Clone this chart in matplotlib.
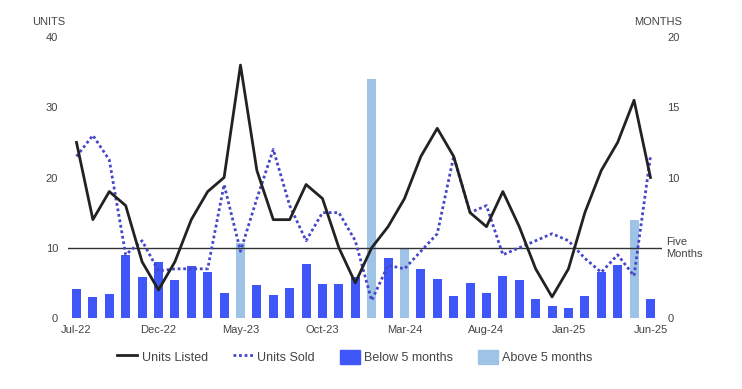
import numpy as np
import matplotlib
matplotlib.use("Agg")
import matplotlib.pyplot as plt
from matplotlib.lines import Line2D
from matplotlib.patches import Patch

plt.rcParams["font.family"] = ["Liberation Sans", "DejaVu Sans"]

# months shown on the x axis
months = ["Jul-22", "Aug-22", "Sep-22", "Oct-22", "Nov-22", "Dec-22",
          "Jan-23", "Feb-23", "Mar-23", "Apr-23", "May-23", "Jun-23",
          "Jul-23", "Aug-23", "Sep-23", "Oct-23", "Nov-23", "Dec-23",
          "Jan-24", "Feb-24", "Mar-24", "Apr-24", "May-24", "Jun-24",
          "Jul-24", "Aug-24", "Sep-24", "Oct-24", "Nov-24", "Dec-24",
          "Jan-25", "Feb-25", "Mar-25", "Apr-25", "May-25", "Jun-25"]

# units (left axis)
units_listed = [25, 14, 18, 16, 8, 4, 8, 14, 18, 20, 36, 21,
                14, 14, 19, 17, 10, 5, 10, 13, 17, 23, 27, 23,
                15, 13, 18, 13, 7, 3, 7, 15, 21, 25, 31, 20]
units_sold = [23, 26, 22.5, 9, 11, 6.7, 7, 7, 7, 19, 9.5, 17,
              24, 16, 11, 15, 15, 11, 2.5, 7.5, 7, 9.5, 12, 23,
              15, 16, 9, 10, 11, 12, 11, 8.5, 6.5, 9, 6, 23]

# months of inventory (right axis)
months_inv = [2.1, 1.5, 1.7, 4.5, 2.9, 4.0, 2.7, 3.7, 3.3, 1.75, 5.35, 2.35,
              1.65, 2.15, 3.85, 2.45, 2.45, 2.95, 17.0, 4.3, 5.0, 3.5, 2.8, 1.6,
              2.5, 1.8, 3.0, 2.7, 1.35, 0.85, 0.7, 1.6, 3.3, 3.8, 7.0, 1.35]

threshold_units = 10  # five months line

blue = "#3f56f8"
light = "#9fc3e6"
sold_color = "#4646c8"
text_color = "#444444"

x = np.arange(len(months))
bar_colors = [light if v >= 5 else blue for v in months_inv]

fig = plt.figure(figsize=(7.42, 3.89), dpi=100)
ax = fig.add_axes([0.0916, 0.1825, 0.8005, 0.7224])
ax2 = ax.twinx()

# bars on the months axis, drawn behind the lines
ax2.bar(x, months_inv, width=0.55, color=bar_colors, zorder=1)
ax2.set_ylim(0, 20)
ax2.set_yticks([0, 5, 10, 15, 20])
ax2.set_yticklabels(["0", "", "10", "15", "20"])
ax.set_zorder(ax2.get_zorder() + 1)
ax.patch.set_visible(False)

ax.axhline(threshold_units, color="#333333", lw=1.0, zorder=2)
ax.plot(x, units_sold, color=sold_color, lw=2.0, linestyle=(0, (1, 1)), zorder=3)
ax.plot(x, units_listed, color="#222222", lw=2.0, zorder=4)

ax.set_xlim(-0.52, 35.7)
ax.set_ylim(0, 40)
ax.set_yticks([0, 10, 20, 30, 40])
ax.set_xticks(x[::5])
ax.set_xticklabels(months[::5])

for a in (ax, ax2):
    for s in a.spines.values():
        s.set_visible(False)
    a.tick_params(length=0, labelsize=8, colors=text_color)
ax.tick_params(axis="y", pad=7)
ax.tick_params(axis="x", pad=5)
ax2.tick_params(axis="y", pad=4)

ax.annotate("Five\nMonths", xy=(1.0, threshold_units),
            xycoords=("axes fraction", "data"), xytext=(3, 0),
            textcoords="offset points", ha="left", va="center",
            fontsize=8, color=text_color, linespacing=1.2)

fig.text(49 / 742, 1 - 22 / 389, "UNITS", ha="center", va="center",
         fontsize=8, color=text_color)
fig.text(658 / 742, 1 - 22 / 389, "MONTHS", ha="center", va="center",
         fontsize=8, color=text_color)

handles = [
    Line2D([], [], color="#222222", lw=2.0),
    Line2D([], [], color=sold_color, lw=2.0, linestyle=(0, (1, 1))),
    Patch(color=blue),
    Patch(color=light),
]
labels = ["Units Listed", "Units Sold", "Below 5 months", "Above 5 months"]
leg = fig.legend(handles, labels, loc="center", ncol=4,
                 bbox_to_anchor=(355 / 742, 32 / 389), frameon=False,
                 fontsize=9, handlelength=1.6, handleheight=1.4,
                 handletextpad=0.35, columnspacing=2.0)
for t in leg.get_texts():
    t.set_color(text_color)

fig.savefig("out.png", dpi=100)
